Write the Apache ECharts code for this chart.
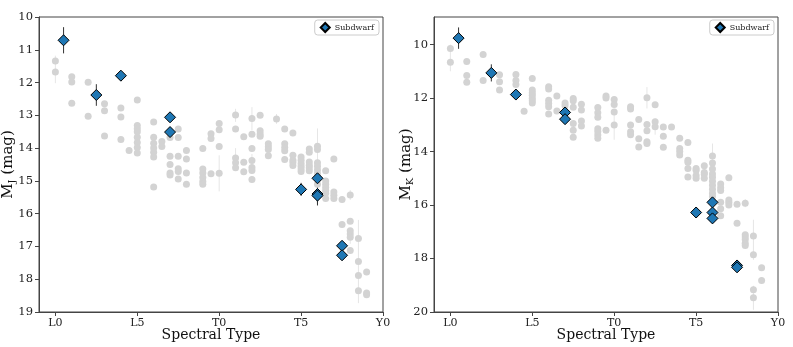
<!DOCTYPE html>
<html>
<head>
<meta charset="utf-8">
<script src="https://cdn.jsdelivr.net/npm/echarts@6/dist/echarts.min.js"></script>
<style>
  html, body { margin: 0; padding: 0; background: #fff; }
  #chart { width: 793px; height: 347px; }
</style>
</head>
<body>
<div id="chart"></div>
<script>
// spectral type: L0 = 0, L5 = 5, T0 = 10, T5 = 15, Y0 = 20
const specTicks = [0, 5, 10, 15, 20];
const specLabels = ['L0', 'L5', 'T0', 'T5', 'Y0'];
const jTicks = [10, 11, 12, 13, 14, 15, 16, 17, 18, 19];
const kTicks = [10, 12, 14, 16, 18, 20];

// field dwarfs, M_J  [spt, mag]
const fieldJ = [
  [0, 11.34], [0, 11.68],
  [1, 11.82], [1, 11.98], [1, 12.63],
  [2, 11.99], [2, 13.03],
  [3, 12.65], [3, 12.86], [3, 13.63],
  [4, 12.78], [4, 13.05], [4, 13.74],
  [4.5, 14.07],
  [5, 12.53], [5, 13.31], [5, 13.41], [5, 13.5], [5, 13.67], [5, 13.83], [5, 13.98], [5, 14.15],
  [6, 13.2], [6, 13.67], [6, 13.85], [6, 14.0], [6, 14.13], [6, 14.27], [6, 15.19],
  [6.5, 13.8], [6.5, 13.95],
  [7, 13.68], [7, 14.25], [7, 14.5], [7, 14.76], [7, 14.82],
  [7.5, 13.42], [7.5, 13.68], [7.5, 14.25], [7.5, 14.63], [7.5, 14.71], [7.5, 14.94],
  [8, 14.07], [8, 14.33], [8, 14.76], [8, 15.1],
  [9, 14.01], [9, 14.64], [9, 14.76], [9, 14.9], [9, 15.02], [9, 15.1],
  [9.5, 13.56], [9.5, 13.71], [9.5, 14.78],
  [10, 13.25], [10, 13.44], [10, 13.95], [10, 14.77],
  [11, 12.99], [11, 13.42], [11, 14.3], [11, 14.45], [11, 14.6],
  [11.5, 13.65], [11.5, 14.43], [11.5, 14.72],
  [12, 13.1], [12, 13.58], [12, 14.01], [12, 14.38], [12, 14.59], [12, 14.68], [12, 14.96],
  [12.5, 13.0], [12.5, 13.47], [12.5, 13.57], [12.5, 13.64],
  [13, 13.87], [13, 13.96], [13, 14.04], [13, 14.23],
  [13.5, 13.11],
  [14, 13.42], [14, 13.87], [14, 13.98], [14, 14.08], [14, 14.35],
  [14.5, 13.54], [14.5, 14.22], [14.5, 14.37], [14.5, 14.44], [14.5, 14.53],
  [15, 14.27], [15, 14.37], [15, 14.47], [15, 14.55], [15, 14.64], [15, 14.71],
  [15.5, 14.03], [15.5, 14.13], [15.5, 14.42], [15.5, 14.52], [15.5, 14.6], [15.5, 14.69],
  [16, 13.94], [16, 14.04], [16, 14.45], [16, 14.55], [16, 14.67], [16, 14.78], [16, 15.1],
  [16.5, 14.69], [16.5, 15.0], [16.5, 15.1], [16.5, 15.2], [16.5, 15.29], [16.5, 15.38], [16.5, 15.54],
  [17, 14.33], [17, 15.34], [17, 15.44], [17, 15.54],
  [17.5, 15.57], [17.5, 16.33],
  [18, 15.43], [18, 16.23], [18, 16.52], [18, 16.62], [18, 16.72], [18, 17.12],
  [18.5, 16.76], [18.5, 17.46], [18.5, 17.89], [18.5, 18.35],
  [19, 17.78], [19, 18.42], [19, 18.47]
];
// field error bars, M_J  [spt, mag, err]
const fieldErrJ = [
  [0, 11.6, 0.42], [10, 14.77, 0.55], [11, 13.0, 0.2], [11, 14.3, 0.3],
  [12, 13.1, 0.35], [12, 14.38, 0.2], [13.5, 13.11, 0.15], [16, 14.2, 0.8],
  [17, 15.44, 0.15], [18, 15.43, 0.15], [18, 16.72, 0.2], [18.5, 17.46, 1.27]
];
// subdwarfs, M_J  [spt, mag, err]
const subJ = [
  [0.5, 10.71, 0.4], [2.5, 12.38, 0.33], [4, 11.79, 0.08], [7, 13.06, 0.08], [7, 13.51, 0.08],
  [15, 15.26, 0.2], [16, 14.92, 0.1], [16, 15.40, 0.3], [16, 15.45, 0.3],
  [17.5, 16.98, 0.08], [17.5, 17.27, 0.08]
];

// field dwarfs, M_K  [spt, mag]
const fieldK = [
  [0, 10.15], [0, 10.66],
  [1, 10.63], [1, 11.16], [1, 11.41],
  [2, 10.37], [2, 11.34],
  [3, 11.13], [3, 11.39], [3, 11.7],
  [4, 11.12], [4, 11.34], [4, 11.49],
  [4.5, 12.49],
  [5, 11.27], [5, 11.7], [5, 11.8], [5, 11.9], [5, 12.01], [5, 12.1], [5, 12.19],
  [6, 11.58], [6, 11.66], [6, 12.08], [6, 12.2], [6, 12.33], [6, 12.6],
  [6.5, 11.92], [6.5, 12.48],
  [7, 12.19], [7, 12.29],
  [7.5, 12.02], [7.5, 12.1], [7.5, 12.34], [7.5, 12.95], [7.5, 13.2], [7.5, 13.47],
  [8, 12.23], [8, 12.45], [8, 12.86], [8, 13.05],
  [9, 12.35], [9, 12.55], [9, 12.72], [9, 13.15], [9, 13.25], [9, 13.38], [9, 13.5],
  [9.5, 11.92], [9.5, 12.0], [9.5, 13.2],
  [10, 12.05], [10, 12.24], [10, 12.52], [10, 13.01],
  [11, 12.33], [11, 12.41], [11, 13.01], [11, 13.26], [11, 13.37],
  [11.5, 12.8], [11.5, 13.52], [11.5, 13.83],
  [12, 11.99], [12, 12.99], [12, 13.22], [12, 13.63], [12, 13.7],
  [12.5, 12.25], [12.5, 12.89], [12.5, 13.07],
  [13, 13.08], [13, 13.43], [13, 13.84],
  [13.5, 13.08],
  [14, 13.5], [14, 13.89], [14, 14.0], [14, 14.13],
  [14.5, 13.66], [14.5, 14.33], [14.5, 14.4], [14.5, 14.63], [14.5, 14.95],
  [15, 14.63], [15, 14.7], [15, 14.9], [15, 15.0],
  [15.5, 14.53], [15.5, 14.78], [15.5, 14.85], [15.5, 15.0],
  [16, 14.17], [16, 14.43], [16, 14.65], [16, 14.84], [16, 14.96], [16, 15.11], [16, 15.26],
  [16, 15.41], [16, 15.56], [16, 15.68],
  [16.5, 15.21], [16.5, 15.35], [16.5, 15.46], [16.5, 15.9], [16.5, 16.14], [16.5, 16.4],
  [17, 14.98], [17, 15.81], [17, 15.9], [17, 16.0],
  [17.5, 15.97], [17.5, 16.68],
  [18, 15.93], [18, 17.11], [18, 17.2], [18, 17.29], [18, 17.43], [18, 17.51],
  [18.5, 17.16], [18.5, 17.86], [18.5, 19.17], [18.5, 19.47],
  [19, 18.35], [19, 18.82]
];
// field error bars, M_K  [spt, mag, err]
const fieldErrK = [
  [0, 10.5, 0.5], [10, 13.01, 0.55], [12, 11.99, 0.4], [12.5, 13.07, 0.3],
  [16, 14.6, 0.9], [18, 15.93, 0.15], [18, 17.43, 0.2], [18.5, 17.3, 0.75], [18.5, 19.47, 0.45]
];
// subdwarfs, M_K  [spt, mag, err]
const subK = [
  [0.5, 9.76, 0.4], [2.5, 11.06, 0.32], [4, 11.87, 0.08], [7, 12.54, 0.08], [7, 12.79, 0.08],
  [15, 16.28, 0.2], [16, 15.9, 0.1], [16, 16.28, 0.1], [16, 16.5, 0.1],
  [17.5, 18.26, 0.1], [17.5, 18.33, 0.1]
];

const FONT = 'DejaVu Serif';
const BLUE = '#1f77b4';
const FIELD = '#d3d3d3';

function errBars(rows, idx, color) {
  return {
    type: 'custom',
    xAxisIndex: idx, yAxisIndex: idx,
    silent: true,
    data: rows.map(r => [r[0], r[1] - r[2], r[1] + r[2]]),
    encode: { x: 0, y: [1, 2] },
    renderItem: function (params, api) {
      const a = api.coord([api.value(0), api.value(1)]);
      const b = api.coord([api.value(0), api.value(2)]);
      return {
        type: 'line',
        shape: { x1: a[0], y1: a[1], x2: b[0], y2: b[1] },
        style: { stroke: color, lineWidth: 1 }
      };
    },
    z: 1
  };
}

function xAxis(idx) {
  return {
    type: 'value', gridIndex: idx, min: -1, max: 20,
    name: 'Spectral Type', nameLocation: 'middle', nameGap: 16, nameMoveOverlap: false,
    nameTextStyle: { fontFamily: FONT, fontSize: 14, color: '#111', verticalAlign: 'top' },
    axisLine: { onZero: false, lineStyle: { color: '#444' } },
    axisTick: { customValues: specTicks, length: 4, lineStyle: { color: '#444' } },
    axisLabel: {
      customValues: specTicks, fontFamily: FONT, fontSize: 11, color: '#222', margin: 6,
      formatter: v => specLabels[specTicks.indexOf(v)]
    },
    splitLine: { show: false }
  };
}

function yAxis(idx, min, max, ticks, sub, gap) {
  return {
    type: 'value', gridIndex: idx, min: min, max: max, inverse: true,
    name: '{m|M}{s|' + sub + '}{m| (mag)}', nameLocation: 'middle', nameGap: gap,
    nameMoveOverlap: false,
    nameTextStyle: {
      rich: {
        m: { fontFamily: FONT, fontSize: 15, color: '#111' },
        s: { fontFamily: FONT, fontSize: 10, color: '#111', padding: [8, 0, 0, 0] }
      }
    },
    axisLine: { onZero: false, lineStyle: { color: '#444' } },
    axisTick: { customValues: ticks, length: 4, lineStyle: { color: '#444' } },
    axisLabel: { customValues: ticks, fontFamily: FONT, fontSize: 11.5, color: '#222', margin: 6 },
    splitLine: { show: false }
  };
}

function legend(right) {
  return {
    top: 20, right: right,
    data: ['Subdwarf'],
    icon: 'diamond', itemWidth: 9, itemHeight: 9, itemGap: 4,
    backgroundColor: '#fff', borderColor: '#ccc', borderWidth: 1, borderRadius: 3,
    padding: [2, 5, 2, 5],
    textStyle: { fontFamily: FONT, fontSize: 8, color: '#222' }
  };
}

const chart = echarts.init(document.getElementById('chart'));
const option = {
  animation: false,
  backgroundColor: '#fff',
  grid: [
    { left: 39, right: 410, top: 17, bottom: 35, outerBoundsMode: 'none',
      show: true, borderColor: '#444', borderWidth: 1 },
    { left: 434, right: 15, top: 17, bottom: 35, outerBoundsMode: 'none',
      show: true, borderColor: '#444', borderWidth: 1 }
  ],
  legend: [legend(414), legend(19)],
  xAxis: [xAxis(0), xAxis(1)],
  yAxis: [yAxis(0, 10, 19, jTicks, 'J', 22), yAxis(1, 8.97, 20, kTicks, 'K', 19)],
  series: [
    errBars(fieldErrJ, 0, '#e6e6e6'),
    { type: 'scatter', xAxisIndex: 0, yAxisIndex: 0, data: fieldJ, symbol: 'circle', symbolSize: 7,
      itemStyle: { color: FIELD, opacity: 1 }, z: 2, silent: true },
    errBars(subJ, 0, '#333'),
    { name: 'Subdwarf', type: 'scatter', xAxisIndex: 0, yAxisIndex: 0,
      data: subJ.map(r => [r[0], r[1]]), symbol: 'diamond', symbolSize: 11,
      itemStyle: { color: BLUE, borderColor: '#000', borderWidth: 1, opacity: 1 }, z: 4 },

    errBars(fieldErrK, 1, '#e6e6e6'),
    { type: 'scatter', xAxisIndex: 1, yAxisIndex: 1, data: fieldK, symbol: 'circle', symbolSize: 7,
      itemStyle: { color: FIELD, opacity: 1 }, z: 2, silent: true },
    errBars(subK, 1, '#333'),
    { name: 'Subdwarf', type: 'scatter', xAxisIndex: 1, yAxisIndex: 1,
      data: subK.map(r => [r[0], r[1]]), symbol: 'diamond', symbolSize: 11,
      itemStyle: { color: BLUE, borderColor: '#000', borderWidth: 1, opacity: 1 }, z: 4 }
  ]
};
option && chart.setOption(option);
window.addEventListener('resize', function () {
  chart.resize();
});
</script>
</body>
</html>
